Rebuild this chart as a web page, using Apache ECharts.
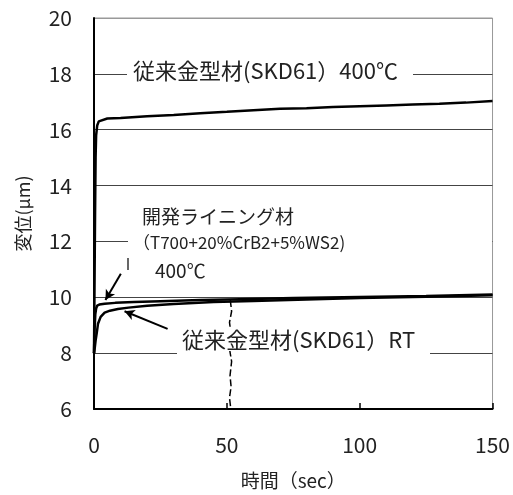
<!DOCTYPE html>
<html><head><meta charset="utf-8">
<script src="https://cdn.jsdelivr.net/npm/echarts@6/dist/echarts.min.js"></script>
<style>html,body{margin:0;padding:0;background:#fff}#c{width:513px;height:495px}</style>
</head><body><div id="c"></div>
<script>
// ---- data ----
const xTicks = [0, 50, 100, 150];
const yTicks = [6, 8, 10, 12, 14, 16, 18, 20];

const skd400X = [0,0.2,0.4,0.6,0.8,1.2,1.8,2.5,5,10,20,30,40,50,60,70,80,90,100,110,120,130,140,150];
const skd400Y = [8.0,10.5,13.0,15.0,15.8,16.15,16.3,16.37,16.4,16.42,16.48,16.53,16.59,16.64,16.7,16.75,16.77,16.81,16.84,16.87,16.9,16.93,16.97,17.03];

const lining400X = [0,0.2,0.5,0.8,1.2,2,4,8,15,25,40,55,75,100,125,150];
const lining400Y = [8.0,8.8,9.4,9.6,9.7,9.74,9.77,9.8,9.83,9.86,9.9,9.93,9.97,10.01,10.05,10.1];

const skdRTX = [0,0.3,0.6,1,1.5,2.5,4,6,9,13,20,30,45,60,80,100,125,150];
const skdRTY = [8.0,8.2,8.45,8.7,9.05,9.3,9.45,9.52,9.58,9.63,9.7,9.76,9.83,9.87,9.92,9.97,10.02,10.07];

const markX = [51.3,51.8,51.0,51.7,51.1,51.8,51.2,51.6,51.0,51.5];
const markY = [9.9,9.5,9.1,8.6,8.1,7.7,7.2,6.8,6.4,6.0];

const labelSKD400 = '従来金型材(SKD61）400℃';
const labelLining = ['開発ライニング材', '（T700+20%CrB2+5%WS2)', '400℃'];
const labelSKDRT = '従来金型材(SKD61）RT';
const xName = '時間（sec）';
const yName = '変位(μm)';

const zip = (a, b) => a.map((v, i) => [v, b[i]]);
const FONT = '"Noto Sans CJK JP", sans-serif';
const chart = echarts.init(document.getElementById('c'));
const lineS = (data, extra) => Object.assign({
  type: 'line', data, showSymbol: false, symbol: 'none', animation: false,
  lineStyle: { color: '#000', width: 2.5 }, z: 3
}, extra || {});

chart.setOption({
  backgroundColor: '#fff',
  animation: false,
  grid: { left: 94, right: 20, top: 18, bottom: 84, show: true, borderColor: '#999', borderWidth: 1, backgroundColor: 'transparent' },
  xAxis: {
    type: 'value', min: xTicks[0], max: xTicks[xTicks.length - 1], interval: 50,
    name: xName, nameLocation: 'middle', nameGap: 62,
    nameTextStyle: { fontSize: 19, color: '#222', fontFamily: FONT },
    axisLine: { lineStyle: { color: '#000', width: 2 } },
    axisTick: { inside: true, length: 6, lineStyle: { color: '#000', width: 1.5 } },
    axisLabel: { fontSize: 21, color: '#222', margin: 26, fontFamily: FONT },
    splitLine: { show: false }
  },
  yAxis: {
    type: 'value', min: yTicks[0], max: yTicks[yTicks.length - 1], interval: 2,
    name: yName, nameLocation: 'middle', nameGap: 62,
    nameTextStyle: { fontSize: 18, color: '#222', fontFamily: FONT },
    axisLine: { lineStyle: { color: '#000', width: 2 } },
    axisTick: { show: false },
    axisLabel: { fontSize: 21, color: '#222', margin: 22, fontFamily: FONT },
    splitLine: { show: true, lineStyle: { color: ['#fff','#444','#444','#444','#444','#444','#444','#999'], width: 1.2 } }
  },
  series: [
    lineS(zip(skd400X, skd400Y), {
      markLine: {
        silent: true, animation: false, symbol: ['none', 'arrow'], symbolSize: [8, 10],
        label: { show: false },
        lineStyle: { color: '#000', width: 2, type: 'solid' },
        data: [
          [{ coord: [10.1, 10.84] }, { coord: [4.3, 9.9] }],
          [{ coord: [27.7, 8.87] }, { coord: [11.5, 9.5] }]
        ]
      }
    }),
    lineS(zip(lining400X, lining400Y)),
    lineS(zip(skdRTX, skdRTY)),
    lineS(zip(markX, markY), { lineStyle: { color: '#000', width: 1.5, type: [7, 3] }, z: 2 })
  ],
  graphic: [
    { type: 'rect', z: 1, shape: { x: 127, y: 66, width: 286, height: 14 }, style: { fill: '#fff' } },
    { type: 'rect', z: 1, shape: { x: 128, y: 236, width: 364, height: 13 }, style: { fill: '#fff' } },
    { type: 'rect', z: 1, shape: { x: 177, y: 349, width: 253, height: 12 }, style: { fill: '#fff' } },
    { type: 'text', z: 10, x: 133, y: 71, style: { text: labelSKD400, font: '22px ' + FONT, fill: '#222', textVerticalAlign: 'middle', backgroundColor: '#fff' } },
    { type: 'text', z: 10, x: 142, y: 217, style: { text: labelLining[0], font: '19px ' + FONT, fill: '#222', textVerticalAlign: 'middle', backgroundColor: '#fff' } },
    { type: 'text', z: 10, x: 133, y: 243, style: { text: labelLining[1], font: '17px ' + FONT, fill: '#222', textVerticalAlign: 'middle', backgroundColor: '#fff' } },
    { type: 'text', z: 10, x: 155, y: 271, style: { text: labelLining[2], font: '19px ' + FONT, fill: '#222', textVerticalAlign: 'middle', backgroundColor: '#fff' } },
    { type: 'text', z: 10, x: 182, y: 340, style: { text: labelSKDRT, font: '22px ' + FONT, fill: '#222', textVerticalAlign: 'middle', backgroundColor: '#fff' } },
    { type: 'line', z: 10, shape: { x1: 128, y1: 258, x2: 128, y2: 270 }, style: { stroke: '#000', lineWidth: 1.2 } }
  ]
});
</script></body></html>
